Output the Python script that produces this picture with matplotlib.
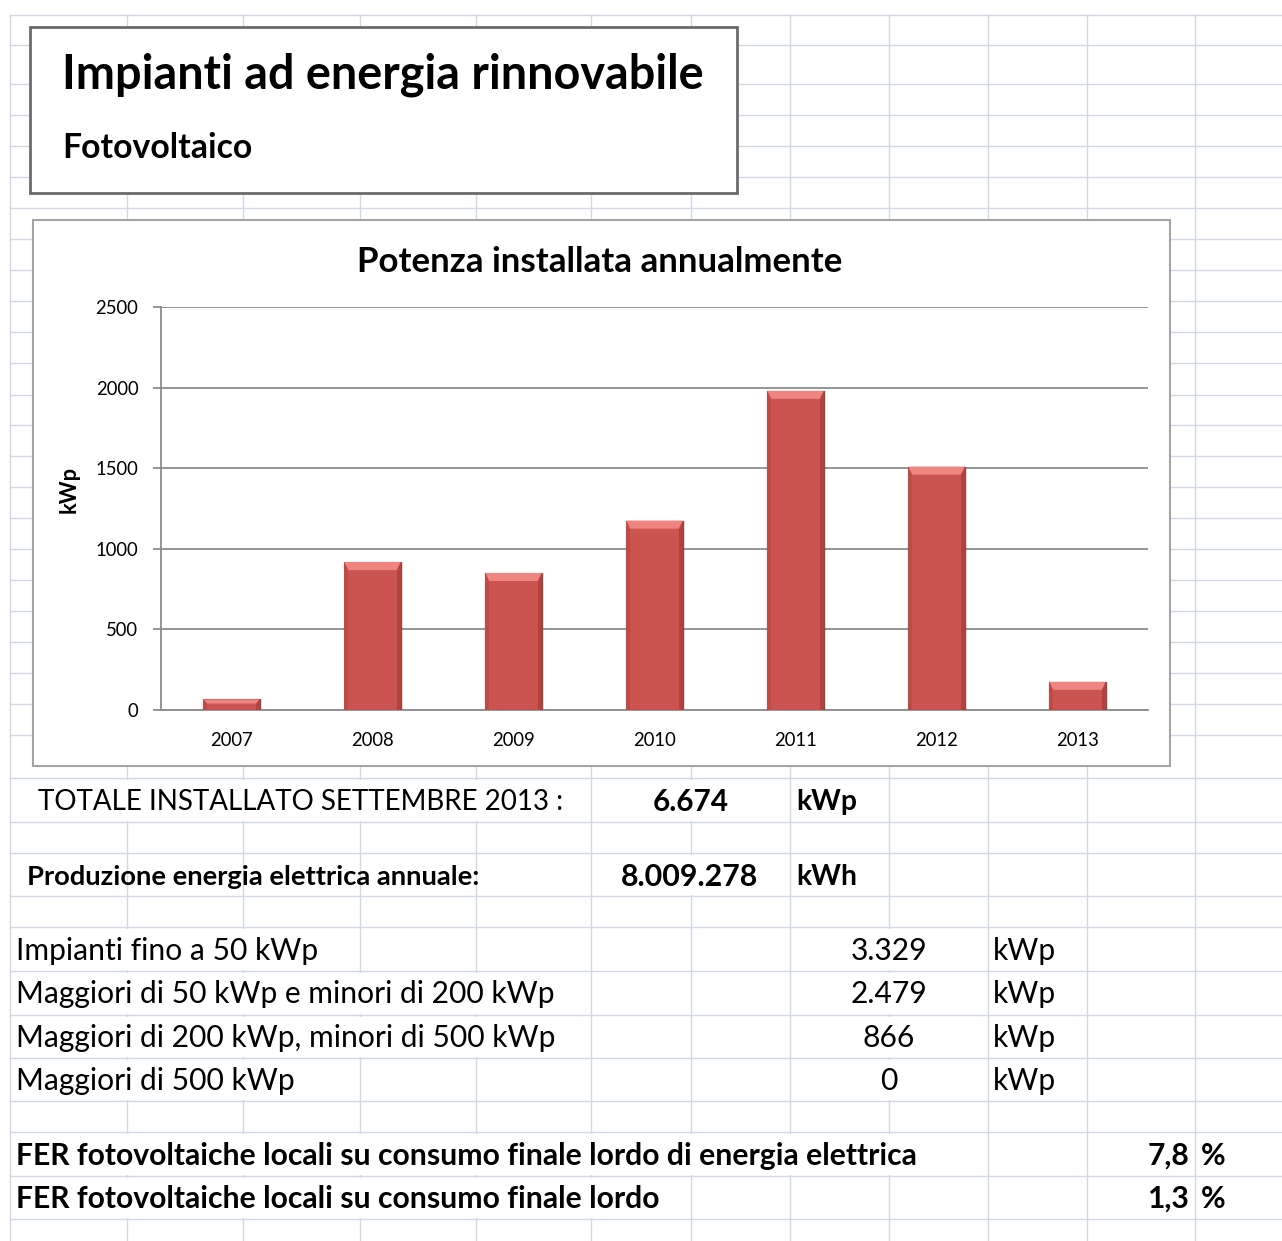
import matplotlib
matplotlib.use("Agg")
import matplotlib.pyplot as plt
from matplotlib.patches import Rectangle, Polygon

plt.rcParams['font.family'] = ['Lato', 'DejaVu Sans']

# potenza installata per anno (kWp)
years = ['2007', '2008', '2009', '2010', '2011', '2012', '2013']
kwp = [66, 918, 850, 1175, 1980, 1510, 175]
y_ticks = [0, 500, 1000, 1500, 2000, 2500]

totale_kwp = '6.674'
produzione_kwh = '8.009.278'
classi = ['Impianti fino a 50 kWp',
          'Maggiori di 50 kWp e minori di 200 kWp',
          'Maggiori di 200 kWp, minori di 500 kWp',
          'Maggiori di 500 kWp']
classi_kwp = ['3.329', '2.479', '866', '0']
fer_labels = ['FER fotovoltaiche locali su consumo finale lordo di energia elettrica',
              'FER fotovoltaiche locali su consumo finale lordo']
fer_pct = ['7,8', '1,3']

W, H = 1282, 1241
fig = plt.figure(figsize=(W / 100, H / 100), dpi=100)
bg = fig.add_axes([0, 0, 1, 1])
bg.set_xlim(0, W)
bg.set_ylim(H, 0)
bg.axis('off')
fig.canvas.draw()
rend = fig.canvas.get_renderer()


def fit_size(s, width, bold=False):
    # font size that makes s exactly `width` pixels wide
    t = bg.text(0, 0, s, fontsize=20, fontweight='bold' if bold else 'normal')
    w = t.get_window_extent(rend).width
    t.remove()
    return 20 * width / w


# ---------- sheet grid ----------
grid_c = '#D0D7E5'
col_x = [10, 127, 243, 360, 476, 591, 691, 790, 889, 988, 1087, 1195]
row_y = [15, 45, 84, 115, 146, 177, 208, 239, 270, 301, 332, 363, 395, 425,
         456, 487, 518, 549, 580, 611, 642, 673, 704, 735, 778, 822, 853, 896,
         927, 971, 1015, 1058, 1101, 1132, 1176, 1219]
for y in row_y:
    bg.plot([10, W], [y, y], color=grid_c, lw=1, zorder=1)
for x in col_x:
    bg.plot([x, x], [15, H], color=grid_c, lw=1, zorder=1)


def merge(x0, x1, y0, y1):
    # hide inner grid lines of a merged / overflowing cell
    bg.add_patch(Rectangle((x0 + 1.5, y0 + 1.5), x1 - x0 - 3, y1 - y0 - 3,
                           facecolor='white', edgecolor='none', zorder=2))


merge(10, 591, 778, 822)
merge(591, 790, 778, 822)
merge(591, 790, 853, 896)
for (y0, y1), end in zip([(927, 971), (971, 1015), (1015, 1058), (1058, 1101)],
                         [360, 591, 591, 360]):
    merge(10, end, y0, y1)
    merge(790, 988, y0, y1)
merge(10, 988, 1132, 1176)
merge(10, 691, 1176, 1219)

# ---------- title box ----------
bg.add_patch(Rectangle((30, 27), 707, 166, facecolor='white', edgecolor='#6B6B6B',
                       lw=2, zorder=3))
bg.text(62, 75, 'Impianti ad energia rinnovabile', va='center', fontweight='bold',
        fontsize=fit_size('Impianti ad energia rinnovabile', 642, True), zorder=5)
bg.text(62, 148, 'Fotovoltaico', va='center', fontweight='bold',
        fontsize=fit_size('Fotovoltaico', 190, True), zorder=5)

# ---------- chart ----------
bg.add_patch(Rectangle((33, 220), 1137, 546, facecolor='white', edgecolor='#A5A5A5',
                       lw=1.5, zorder=3))

ax = fig.add_axes([161 / W, (H - 710) / H, (1148 - 161) / W, (710 - 307) / H])
ax.patch.set_visible(False)
x = list(range(len(years)))
bw = 0.4
ax.bar(x, kwp, width=bw, color='#CB5450', edgecolor='#A3403C', lw=0.8, zorder=3)

# bevel on each bar: light top, darker sides
dx = 0.028
for xi, v in zip(x, kwp):
    x0, x1 = xi - bw / 2, xi + bw / 2
    dy = min(50, v * 0.4)
    ax.add_patch(Polygon([(x0, v), (x1, v), (x1 - dx, v - dy), (x0 + dx, v - dy)],
                         closed=True, facecolor='#EE8580', edgecolor='none', zorder=4))
    ax.add_patch(Polygon([(x1, v), (x1, 0), (x1 - dx, 0), (x1 - dx, v - dy)],
                         closed=True, facecolor='#B0433F', edgecolor='none', zorder=4))
    ax.add_patch(Polygon([(x0, v), (x0, 0), (x0 + dx, 0), (x0 + dx, v - dy)],
                         closed=True, facecolor='#BE4B47', edgecolor='none', zorder=4))
    ax.add_patch(Rectangle((x0 + 0.004, 0), bw + 0.012, v, facecolor='#000000',
                           alpha=0.10, edgecolor='none', zorder=2))

ax.set_xlim(-0.5, len(years) - 0.5)
ax.set_ylim(0, 2500)
ax.set_yticks(y_ticks)
ax.set_xticks(x)
ax.set_xticklabels(years)
ax.yaxis.grid(True, color='#8C8C8C', lw=1.3, zorder=0)
for s in ['top', 'right']:
    ax.spines[s].set_visible(False)
for s in ['left', 'bottom']:
    ax.spines[s].set_color('#8C8C8C')
    ax.spines[s].set_linewidth(1.3)
tick_fs = fit_size('2500', 43)
ax.tick_params(axis='y', direction='out', length=5.8, width=1.3, color='#8C8C8C',
               pad=10.5, labelsize=tick_fs)
ax.tick_params(axis='x', length=0, pad=16, labelsize=tick_fs)
ax.set_title('Potenza installata annualmente', fontweight='bold', pad=25,
             x=(600 - 161) / (1148 - 161),
             fontsize=fit_size('Potenza installata annualmente', 485, True))
ax.set_ylabel('kWp', fontweight='bold', fontsize=fit_size('kWp', 47, True))
ax.yaxis.set_label_coords(-0.082, 0.548)

# ---------- summary table ----------
reg_fs = fit_size(classi[1], 540)
bold_fs = fit_size(fer_labels[0], 898, True)

bg.text(38, 802, 'TOTALE INSTALLATO SETTEMBRE 2013 :', va='center', zorder=5,
        fontsize=fit_size('TOTALE INSTALLATO SETTEMBRE 2013 :', 525))
bg.text(691, 802, totale_kwp, ha='center', va='center', fontweight='bold',
        fontsize=fit_size(totale_kwp, 76, True), zorder=5)
bg.text(796, 802, 'kWp', va='center', fontweight='bold',
        fontsize=fit_size('kWp', 61, True), zorder=5)

bg.text(27, 877, 'Produzione energia elettrica annuale:', va='center',
        fontweight='bold', zorder=5,
        fontsize=fit_size('Produzione energia elettrica annuale:', 452, True))
bg.text(690, 877, produzione_kwh, ha='center', va='center', fontweight='bold',
        fontsize=fit_size(produzione_kwh, 138, True), zorder=5)
bg.text(796, 877, 'kWh', va='center', fontweight='bold',
        fontsize=fit_size('kWh', 61, True), zorder=5)

for yy, lab, val in zip([951, 994, 1038, 1081], classi, classi_kwp):
    bg.text(16, yy, lab, va='center', fontsize=reg_fs, zorder=5)
    bg.text(889, yy, val, ha='center', va='center', fontsize=reg_fs, zorder=5)
    bg.text(993, yy, 'kWp', va='center', fontsize=reg_fs, zorder=5)

for yy, lab, val in zip([1156, 1199], fer_labels, fer_pct):
    bg.text(16, yy, lab, va='center', fontweight='bold', fontsize=bold_fs, zorder=5)
    bg.text(1189, yy, val, ha='right', va='center', fontweight='bold',
            fontsize=bold_fs, zorder=5)
    bg.text(1201, yy, '%', va='center', fontweight='bold', fontsize=bold_fs, zorder=5)

fig.savefig('out.png', dpi=100)
